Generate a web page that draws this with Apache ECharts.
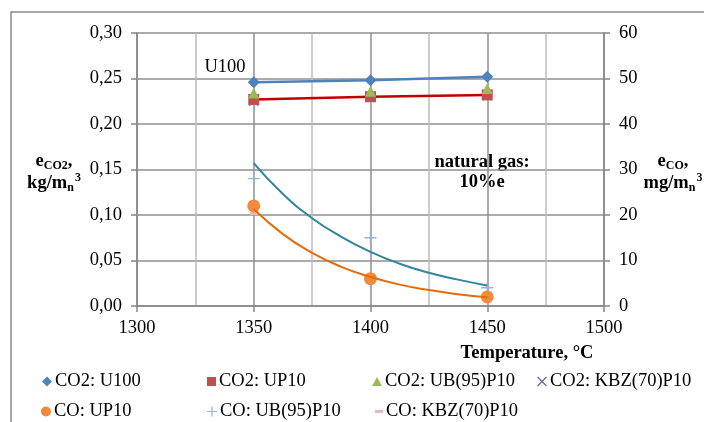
<!DOCTYPE html>
<html>
<head>
<meta charset="utf-8">
<script src="https://cdn.jsdelivr.net/npm/echarts@6/dist/echarts.min.js"></script>
<style>
  html, body { margin: 0; padding: 0; background: #fff; }
  #chart { width: 704px; height: 422px; }
</style>
</head>
<body>
<div id="chart"></div>
<script>
// 数据
var temps = [1350, 1400, 1450];
var co2U100 = [0.246, 0.248, 0.252];
var co2UP10 = [0.227, 0.230, 0.232];
var co2UB95 = [0.234, 0.236, 0.239];
var co2KBZ70 = [0.225, 0.229, 0.231];
var coUP10 = [22, 6, 2];
var coUB95 = [28, 15, 4];
var coKBZ70 = [20.3, 6, 2];
// 趋势线
var trendTemps = [1350, 1362.5, 1375, 1387.5, 1400, 1412.5, 1425, 1437.5, 1450];
var trendUB95 = [31.4, 24.6, 19.3, 15.2, 11.9, 9.3, 7.3, 5.8, 4.5];
var trendUP10 = [21.3, 15.8, 11.7, 8.6, 6.4, 4.7, 3.5, 2.6, 1.9];
var leftTicks = [0, 0.3, 0.05];
var rightTicks = [0, 60, 10];
var xTicks = [1300, 1500, 50];

var FONT = "Liberation Serif, serif";
var FS = 18.5;
var crossPath = "path://M0,1 L1,0 L5,4 L9,0 L10,1 L6,5 L10,9 L9,10 L5,6 L1,10 L0,9 L4,5 Z";
var plusPath = "path://M4.4,0 H5.6 V4.4 H10 V5.6 H5.6 V10 H4.4 V5.6 H0 V4.4 H4.4 Z";

function pairs(xs, ys) {
    return xs.map(function(x, i) { return [x, ys[i]]; });
}

var myChart = echarts.init(document.getElementById("chart"));

// 图例，每个一个组件，按列放置
var legendItems = [
    { name: "CO2: U100", icon: "diamond", left: 42, top: 372, w: 10, h: 10 },
    { name: "CO2: UP10", icon: "rect", left: 207, top: 372, w: 9, h: 9 },
    { name: "CO2: UB(95)P10", icon: "triangle", left: 372, top: 372, w: 10, h: 9 },
    { name: "CO2: KBZ(70)P10", icon: crossPath, left: 537, top: 372, w: 10, h: 10 },
    { name: "CO: UP10", icon: "circle", left: 41, top: 402, w: 10, h: 10 },
    { name: "CO: UB(95)P10", icon: plusPath, left: 207, top: 402, w: 10, h: 10 },
    { name: "CO: KBZ(70)P10", icon: "rect", left: 375, top: 402, w: 8, h: 3 }
];
var legends = legendItems.map(function(it) {
    return {
        data: [{ name: it.name, icon: it.icon }],
        left: it.left,
        top: it.top,
        itemWidth: it.w,
        itemHeight: it.h,
        itemGap: 0,
        padding: 0,
        textStyle: { fontFamily: FONT, fontSize: FS, color: "#000", padding: [0, 0, 0, -2] }
    };
});

var labelStyle = { fontFamily: FONT, fontSize: FS, color: "#000" };

var option = {
    animation: false,
    backgroundColor: "#fff",
    textStyle: { fontFamily: FONT },
    legend: legends,
    grid: { left: 137, right: 100, top: 33, bottom: 116 },
    xAxis: {
        type: "value",
        min: xTicks[0],
        max: xTicks[1],
        interval: xTicks[2],
        axisLine: { lineStyle: { color: "#868686", width: 1.5 } },
        axisTick: { show: true, length: 6, lineStyle: { color: "#868686", width: 1.5 } },
        axisLabel: Object.assign({ margin: 13, formatter: function(v) { return String(v); } }, labelStyle),
        splitLine: { show: true, lineStyle: { color: "#8f8f8f", width: 1.5 } },
        minorTick: { show: false, splitNumber: 2 },
        minorSplitLine: { show: true, lineStyle: { color: "#bdbdbd", width: 1.5 } }
    },
    yAxis: [
        {
            type: "value",
            min: leftTicks[0],
            max: leftTicks[1],
            interval: leftTicks[2],
            axisLine: { show: true, lineStyle: { color: "#868686", width: 1.5 } },
            axisTick: { show: true, length: 6, lineStyle: { color: "#868686", width: 1.5 } },
            axisLabel: Object.assign({
                margin: 15,
                formatter: function(v) { return v.toFixed(2).replace(".", ","); }
            }, labelStyle),
            splitLine: { show: true, lineStyle: { color: "#8f8f8f", width: 1.5 } }
        },
        {
            type: "value",
            min: rightTicks[0],
            max: rightTicks[1],
            interval: rightTicks[2],
            position: "right",
            axisLine: { show: true, lineStyle: { color: "#868686", width: 1.5 } },
            axisTick: { show: true, length: 6, lineStyle: { color: "#868686", width: 1.5 } },
            axisLabel: Object.assign({ margin: 15 }, labelStyle),
            splitLine: { show: false }
        }
    ],
    series: [
        {
            name: "CO2: U100",
            type: "line",
            yAxisIndex: 0,
            data: pairs(temps, co2U100),
            symbol: "diamond",
            symbolSize: 12,
            itemStyle: { color: "#4F81BD" },
            lineStyle: { color: "#4F81BD", width: 2.5 }
        },
        {
            name: "CO2: KBZ(70)P10",
            type: "scatter",
            yAxisIndex: 0,
            data: pairs(temps, co2KBZ70),
            symbol: crossPath,
            symbolSize: 10,
            itemStyle: { color: "#8064A2", opacity: 1 }
        },
        {
            name: "CO2: UP10",
            type: "line",
            yAxisIndex: 0,
            data: pairs(temps, co2UP10),
            symbol: "rect",
            symbolSize: 11,
            itemStyle: { color: "#C0504D" },
            lineStyle: { color: "#C00000", width: 2.5 }
        },
        {
            name: "CO2: UB(95)P10",
            type: "scatter",
            yAxisIndex: 0,
            z: 5,
            data: pairs(temps, co2UB95),
            symbol: "triangle",
            symbolSize: 11,
            itemStyle: { color: "#9BBB59", opacity: 1 }
        },
        {
            name: "CO: KBZ(70)P10",
            type: "scatter",
            yAxisIndex: 1,
            data: pairs(temps, coKBZ70),
            symbol: "rect",
            symbolSize: [8, 3],
            itemStyle: { color: "#E6B9B8", opacity: 1 }
        },
        {
            name: "CO: UB(95)P10",
            type: "scatter",
            yAxisIndex: 1,
            data: pairs(temps, coUB95),
            symbol: plusPath,
            symbolSize: 12,
            itemStyle: { color: "#95B3D7", opacity: 1 }
        },
        {
            name: "trend UB95",
            type: "line",
            yAxisIndex: 1,
            data: pairs(trendTemps, trendUB95),
            smooth: true,
            showSymbol: false,
            lineStyle: { color: "#31859C", width: 2 },
            itemStyle: { color: "#31859C" },
            silent: true
        },
        {
            name: "CO: UP10",
            type: "scatter",
            yAxisIndex: 1,
            z: 4,
            data: pairs(temps, coUP10),
            symbol: "circle",
            symbolSize: 13,
            itemStyle: { color: "#F08A3C", opacity: 1 }
        },
        {
            name: "trend UP10",
            type: "line",
            yAxisIndex: 1,
            z: 5,
            data: pairs(trendTemps, trendUP10),
            smooth: true,
            showSymbol: false,
            lineStyle: { color: "#E46C0A", width: 2 },
            itemStyle: { color: "#E46C0A" },
            silent: true
        }
    ],
    graphic: [
        {
            type: "rect",
            shape: { x: 11, y: 12, width: 720, height: 440 },
            style: { fill: "none", stroke: "#8c8c8c", lineWidth: 1.5 },
            z: -10
        },
        {
            type: "text",
            x: 225, y: 67,
            style: { text: "U100", font: FS + "px " + FONT, fill: "#000", align: "center", verticalAlign: "middle" }
        },
        {
            type: "text",
            x: 482, y: 172,
            style: {
                text: "natural gas:\n10%e",
                font: "bold " + FS + "px " + FONT, fill: "#000", align: "center", verticalAlign: "middle", lineHeight: 20
            }
        },
        {
            type: "text",
            x: 527, y: 353,
            style: { text: "Temperature, °C", font: "bold " + FS + "px " + FONT, fill: "#000", align: "center", verticalAlign: "middle" }
        },
        {
            type: "text",
            x: 54, y: 172,
            style: {
                text: "{b|e}{s|CO2}{b|,}\n{b|kg/m}{s|n}{p|3}",
                align: "center", verticalAlign: "middle", fill: "#000",
                rich: {
                    b: { fontFamily: FONT, fontWeight: "bold", fontSize: FS, lineHeight: 22 },
                    s: { fontFamily: FONT, fontWeight: "bold", fontSize: 12, lineHeight: 22, verticalAlign: "bottom", padding: [6, 0, 0, 0] },
                    p: { fontFamily: FONT, fontWeight: "bold", fontSize: 12, lineHeight: 22, verticalAlign: "top", padding: [0, 0, 6, 1] }
                }
            }
        },
        {
            type: "text",
            x: 673, y: 172,
            style: {
                text: "{b|e}{s|CO}{b|,}\n{b|mg/m}{s|n}{p|3}",
                align: "center", verticalAlign: "middle", fill: "#000",
                rich: {
                    b: { fontFamily: FONT, fontWeight: "bold", fontSize: FS, lineHeight: 22 },
                    s: { fontFamily: FONT, fontWeight: "bold", fontSize: 12, lineHeight: 22, verticalAlign: "bottom", padding: [6, 0, 0, 0] },
                    p: { fontFamily: FONT, fontWeight: "bold", fontSize: 12, lineHeight: 22, verticalAlign: "top", padding: [0, 0, 6, 1] }
                }
            }
        }
    ]
};

myChart.setOption(option);
window.addEventListener("resize", function() {
    myChart.resize();
});
</script>
</body>
</html>
